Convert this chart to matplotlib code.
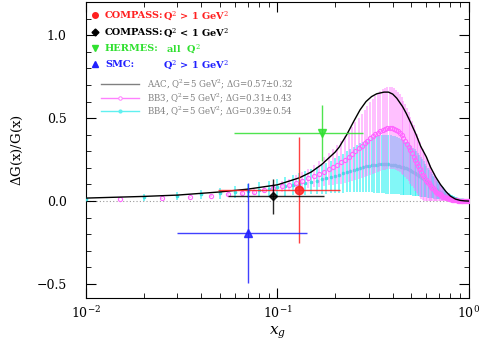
import numpy as np
import matplotlib
matplotlib.use("Agg")
import matplotlib.pyplot as plt
from matplotlib.ticker import MultipleLocator, LogLocator

plt.rcParams['font.family'] = 'DejaVu Serif'
plt.rcParams['mathtext.fontset'] = 'dejavuserif'

# AAC curve, Q^2 = 5 GeV^2
aac_x = [0.01, 0.02, 0.03, 0.05, 0.07, 0.10, 0.13, 0.15, 0.17, 0.20, 0.21, 0.23, 0.25, 0.27,
         0.29, 0.31, 0.33, 0.36, 0.38, 0.40, 0.42, 0.45, 0.47, 0.50, 0.53, 0.56, 0.60,
         0.63, 0.67, 0.71, 0.76, 0.80, 0.85, 0.90, 0.95, 1.0]
aac_y = [0.018, 0.028, 0.036, 0.055, 0.072, 0.098, 0.14, 0.175, 0.22, 0.295, 0.325, 0.40, 0.48, 0.55,
         0.60, 0.63, 0.647, 0.657, 0.657, 0.645, 0.62, 0.57, 0.53, 0.465, 0.40, 0.33, 0.265,
         0.205, 0.146, 0.10, 0.056, 0.03, 0.012, 0.004, 0.001, 0.0]

# BB3 points at x = 0.015 ... 0.995
bb3_x = np.arange(0.015, 1.0, 0.01)
bb3_y = [0.010, 0.016, 0.022, 0.031, 0.040, 0.048, 0.057, 0.066, 0.076, 0.088,
         0.099, 0.111, 0.124, 0.137, 0.150, 0.164, 0.177, 0.191, 0.205, 0.219,
         0.234, 0.250, 0.267, 0.284, 0.300, 0.317, 0.333, 0.349, 0.364, 0.378,
         0.391, 0.403, 0.413, 0.422, 0.430, 0.436, 0.440, 0.441, 0.440, 0.436,
         0.430, 0.421, 0.410, 0.396, 0.381, 0.364, 0.346, 0.327, 0.307, 0.287,
         0.267, 0.247, 0.228, 0.209, 0.191, 0.174, 0.158, 0.143, 0.129, 0.118,
         0.107, 0.097, 0.087, 0.078, 0.070, 0.063, 0.056, 0.050, 0.045, 0.040,
         0.035, 0.031, 0.027, 0.024, 0.021, 0.018, 0.016, 0.014, 0.012, 0.010,
         0.009, 0.008, 0.007, 0.006, 0.005, 0.004, 0.003, 0.003, 0.002, 0.002,
         0.002, 0.001, 0.001, 0.001, 0.001, 0.0, 0.0, 0.0, 0.0]
bb3_err = [0.0, 0.002, 0.004, 0.006, 0.009, 0.012, 0.016, 0.020, 0.025, 0.031,
           0.037, 0.044, 0.051, 0.059, 0.068, 0.077, 0.087, 0.097, 0.108, 0.119,
           0.130, 0.141, 0.152, 0.163, 0.174, 0.184, 0.194, 0.203, 0.212, 0.220,
           0.227, 0.233, 0.238, 0.242, 0.245, 0.247, 0.248, 0.248, 0.247, 0.245,
           0.242, 0.239, 0.235, 0.230, 0.225, 0.220, 0.214, 0.208, 0.202, 0.196,
           0.190, 0.184, 0.178, 0.172, 0.166, 0.160, 0.153, 0.146, 0.139, 0.132,
           0.125, 0.118, 0.111, 0.104, 0.097, 0.090, 0.083, 0.077, 0.071, 0.065,
           0.059, 0.054, 0.049, 0.044, 0.040, 0.036, 0.032, 0.029, 0.026, 0.023,
           0.020, 0.018, 0.016, 0.014, 0.012, 0.010, 0.009, 0.008, 0.007, 0.006,
           0.005, 0.004, 0.003, 0.003, 0.002, 0.002, 0.001, 0.001, 0.0]

# BB4 points at x = 0.01 ... 0.99
bb4_x = np.arange(0.01, 0.995, 0.01)
bb4_y = [0.015, 0.024, 0.032, 0.040, 0.047, 0.054, 0.061, 0.068, 0.075, 0.082,
         0.089, 0.096, 0.103, 0.110, 0.117, 0.124, 0.131, 0.138, 0.145, 0.152,
         0.160, 0.168, 0.176, 0.183, 0.190, 0.196, 0.202, 0.207, 0.211, 0.214,
         0.217, 0.219, 0.220, 0.221, 0.222, 0.222, 0.222, 0.221, 0.220, 0.218,
         0.216, 0.214, 0.211, 0.208, 0.205, 0.201, 0.197, 0.193, 0.188, 0.183,
         0.178, 0.172, 0.166, 0.160, 0.153, 0.146, 0.139, 0.132, 0.125, 0.118,
         0.111, 0.104, 0.097, 0.091, 0.085, 0.079, 0.073, 0.068, 0.063, 0.058,
         0.053, 0.049, 0.045, 0.041, 0.037, 0.034, 0.031, 0.028, 0.025, 0.023,
         0.021, 0.019, 0.017, 0.015, 0.013, 0.012, 0.010, 0.009, 0.008, 0.007,
         0.006, 0.005, 0.004, 0.003, 0.003, 0.002, 0.001, 0.001, 0.0]
bb4_err = [0.015, 0.021, 0.024, 0.028, 0.032, 0.036, 0.040, 0.044, 0.048, 0.052,
           0.056, 0.061, 0.066, 0.071, 0.076, 0.081, 0.087, 0.093, 0.099, 0.105,
           0.111, 0.117, 0.123, 0.129, 0.135, 0.141, 0.147, 0.152, 0.157, 0.161,
           0.165, 0.168, 0.171, 0.173, 0.175, 0.176, 0.177, 0.177, 0.177, 0.176,
           0.175, 0.173, 0.171, 0.169, 0.166, 0.163, 0.160, 0.157, 0.153, 0.149,
           0.145, 0.140, 0.135, 0.130, 0.125, 0.119, 0.113, 0.107, 0.101, 0.095,
           0.090, 0.084, 0.079, 0.074, 0.069, 0.064, 0.059, 0.055, 0.051, 0.047,
           0.043, 0.040, 0.037, 0.034, 0.031, 0.028, 0.026, 0.023, 0.021, 0.019,
           0.017, 0.016, 0.014, 0.013, 0.011, 0.010, 0.009, 0.008, 0.007, 0.006,
           0.005, 0.004, 0.004, 0.003, 0.002, 0.002, 0.001, 0.001, 0.0]

# measurements: x, y, x range, y error
compass_hi = dict(x=0.13, y=0.066, xlo=0.049, xhi=0.211, yerr=0.32)
compass_lo = dict(x=0.095, y=0.03, xlo=0.055, xhi=0.176, yerr=0.105)
hermes = dict(x=0.17, y=0.41, xlo=0.059, xhi=0.28, yerr=0.17)
smc = dict(x=0.07, y=-0.193, xlo=0.030, xhi=0.142, yerr=0.30)

fig = plt.figure(figsize=(4.79, 3.45), dpi=100)
ax = fig.add_axes([0.1795, 0.136, 0.7995, 0.858])

# lower bands do not go below zero in the picture
bb3_lo = np.minimum(bb3_err, bb3_y)
bb4_lo = np.minimum(bb4_err, bb4_y)

ax.errorbar(bb4_x, bb4_y, yerr=[bb4_lo, bb4_err], fmt='none', ecolor='#00f0f0',
            elinewidth=1.4, alpha=0.5, capsize=0, zorder=2)
ax.plot(bb4_x, bb4_y, 'o', ms=1.6, color='#40e0e0', zorder=3)
ax.errorbar(bb3_x, bb3_y, yerr=[bb3_lo, bb3_err], fmt='none', ecolor='#ff70ff',
            elinewidth=1.4, alpha=0.45, capsize=0, zorder=3)
ax.plot(bb3_x, bb3_y, 'o', ms=3, mfc='none', mec='#ff66ff', mew=0.8, zorder=4)
ax.plot(aac_x, aac_y, color='black', lw=1.0, zorder=5)

ax.axhline(0, color='#999999', lw=0.8, ls=(0, (1, 2)), zorder=1)

for d, c, m, ms in [(compass_hi, '#ff2020', 'o', 6), (compass_lo, 'black', 'D', 4.5),
                    (hermes, '#30e030', 'v', 6), (smc, '#2020ff', '^', 6)]:
    ax.errorbar(d['x'], d['y'], xerr=[[d['x'] - d['xlo']], [d['xhi'] - d['x']]],
                yerr=d['yerr'], fmt=m, ms=ms, color=c, ecolor=c, elinewidth=1.0,
                alpha=0.85, capsize=0, zorder=6)

ax.set_xscale('log')
ax.set_xlim(0.01, 1.0)
ax.set_ylim(-0.585, 1.2)
ax.yaxis.set_major_locator(MultipleLocator(0.5))
ax.yaxis.set_minor_locator(MultipleLocator(0.1))
ax.xaxis.set_minor_locator(LogLocator(subs=np.arange(2, 10)))
ax.tick_params(which='both', direction='in', top=True, right=True, labelsize=9)
ax.tick_params(which='major', length=7, width=0.8)
ax.tick_params(which='minor', length=3.5, width=0.6)
ax.tick_params(axis='y', which='major', pad=14)
ax.tick_params(axis='x', which='major', pad=5)
ax.set_yticks([-0.5, 0.0, 0.5, 1.0])
ax.set_yticklabels(['\u22120.5', '0.0', '0.5', '1.0'])
for s in ax.spines.values():
    s.set_linewidth(0.8)

ax.set_xlabel(r'$\boldsymbol{x_g}$', fontsize=11, labelpad=3)
ax.set_ylabel(r'$\Delta$G(x)/G(x)', fontsize=9.5, labelpad=8)

# legend, drawn by hand
def ay(py):
    return (298 - py) / 296.0

def axx(px):
    return (px - 86) / 383.0

big = [('COMPASS:', 'Q$^2$ > 1 GeV$^2$', '#ff2020', 'o', 15),
       ('COMPASS:', 'Q$^2$ < 1 GeV$^2$', 'black', 'D', 32),
       ('HERMES:', 'all  Q$^2$', '#30e030', 'v', 48),
       ('SMC:', 'Q$^2$ > 1 GeV$^2$', '#2020ff', '^', 64)]
for lab, rest, c, m, py in big:
    ax.plot([axx(95)], [ay(py)], m, ms=4 if m != 'D' else 3.5, color=c,
            transform=ax.transAxes, clip_on=False)
    ax.text(axx(105), ay(py), lab, color=c, fontsize=7, fontweight='bold',
            va='center', transform=ax.transAxes)
    x2 = axx(166) if lab == 'HERMES:' else axx(163)
    ax.text(x2, ay(py), rest, color=c, fontsize=7, fontweight='bold',
            va='center', transform=ax.transAxes)

small = [('AAC, Q$^2$=5 GeV$^2$; $\\Delta$G=0.57\u00b10.32', '#808080', None, 84),
         ('BB3, Q$^2$=5 GeV$^2$; $\\Delta$G=0.31\u00b10.43', '#ff80ff', 'o', 98),
         ('BB4, Q$^2$=5 GeV$^2$; $\\Delta$G=0.39\u00b10.54', '#60f0f0', '.', 111)]
for txt, c, m, py in small:
    ax.plot([axx(101), axx(139)], [ay(py), ay(py)], color=c, lw=1.0,
            transform=ax.transAxes, clip_on=False)
    if m == 'o':
        ax.plot([axx(120)], [ay(py)], 'o', ms=2.5, mfc='white', mec=c, mew=0.7,
                transform=ax.transAxes)
    elif m == '.':
        ax.plot([axx(120)], [ay(py)], 'o', ms=2, color=c, transform=ax.transAxes)
    ax.text(axx(147), ay(py), txt, color='#808080', fontsize=6.2,
            va='center', transform=ax.transAxes)

fig.savefig('out.png', dpi=100)
